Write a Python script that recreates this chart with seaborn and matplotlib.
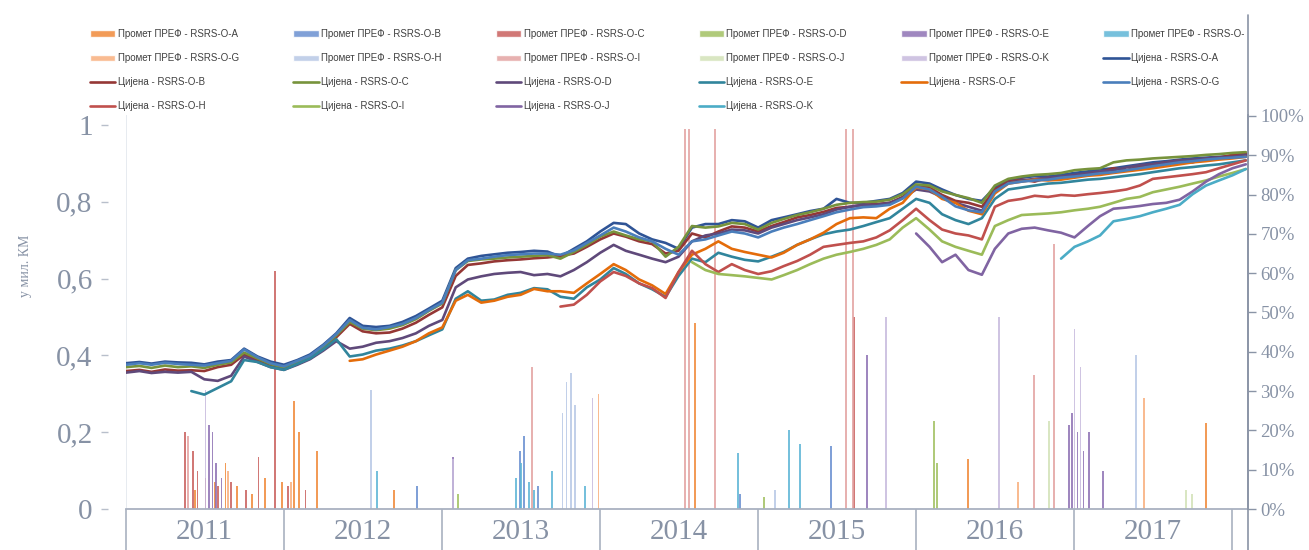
import matplotlib
matplotlib.use("Agg")
import matplotlib.pyplot as plt
from matplotlib.patches import Patch
from matplotlib.lines import Line2D
from matplotlib.transforms import Bbox, TransformedBbox
import pandas as pd
import seaborn as sns

# ---------------- data ----------------
codes = ["A", "B", "C", "D", "E", "F", "G", "H", "I", "J", "K"]
year_labels = ["2011", "2012", "2013", "2014", "2015", "2016", "2017"]

# monthly prices (% of nominal), first value at the start month of each series
price_start = {"A": "2011-01-01", "B": "2011-01-01", "C": "2011-01-01", "D": "2011-01-01",
               "E": "2011-06-01", "F": "2012-06-01", "G": "2011-01-01", "H": "2013-10-01",
               "I": "2014-08-01", "J": "2016-01-01", "K": "2016-12-01"}

price_A = [37.1, 37.4, 37.0, 37.5, 37.3, 37.2, 36.8, 37.5, 37.9, 40.8,
           38.8, 37.5, 36.7, 37.9, 39.3, 41.8, 44.7, 48.6, 46.6, 46.3,
           46.6, 47.6, 49.1, 51.0, 53.0, 61.3, 63.7, 64.4, 64.8, 65.2,
           65.4, 65.7, 65.5, 64.2, 66.2, 68.1, 70.6, 72.8, 72.5, 70.1,
           68.6, 67.7, 66.2, 71.6, 72.5, 72.5, 73.5, 73.2, 71.6, 73.5,
           74.2, 75.0, 75.8, 76.4, 78.9, 77.9, 77.9, 78.4, 78.9, 80.4,
           83.3, 82.8, 81.3, 79.9, 78.9, 78.4, 81.8, 83.8, 84.3, 84.7,
           84.6, 85.0, 85.5, 85.9, 86.4, 86.7, 87.2, 87.7, 88.2, 88.5,
           88.9, 89.2, 89.4, 89.6, 89.8, 90.1]
price_B = [35.1, 35.4, 34.9, 35.5, 35.2, 35.3, 35.1, 36.1, 36.7, 39.3,
           37.8, 36.4, 35.7, 36.9, 38.3, 40.8, 43.7, 47.1, 45.2, 44.7,
           44.9, 45.9, 47.4, 49.4, 51.3, 59.3, 62.1, 62.5, 63.0, 63.3,
           63.5, 63.8, 64.0, 64.4, 65.0, 66.7, 68.6, 70.1, 69.3, 68.1,
           67.4, 65.0, 65.7, 70.1, 69.1, 70.6, 71.9, 71.6, 70.6, 72.0,
           73.0, 74.2, 74.8, 75.6, 76.6, 76.9, 77.4, 77.6, 77.9, 79.4,
           82.3, 81.8, 79.9, 78.4, 77.9, 76.9, 81.3, 83.3, 83.8, 83.3,
           84.3, 84.0, 84.8, 85.2, 85.7, 86.7, 86.2, 87.2, 87.7, 88.2,
           88.7, 88.2, 89.2, 89.4, 90.1, 90.4]
price_C = [36.1, 36.4, 35.9, 36.5, 36.1, 36.3, 35.9, 36.7, 37.3, 39.8,
           38.3, 36.9, 35.9, 37.3, 38.8, 41.3, 44.2, 47.6, 45.9, 45.5,
           45.9, 46.8, 48.3, 50.4, 52.3, 60.8, 63.1, 63.5, 63.7, 64.0,
           64.2, 64.4, 64.6, 63.7, 65.4, 67.2, 69.3, 70.6, 69.6, 68.6,
           68.1, 64.2, 66.7, 72.0, 71.6, 71.9, 72.8, 72.5, 71.1, 72.8,
           73.8, 74.8, 75.5, 76.4, 77.4, 77.9, 78.1, 78.2, 78.7, 80.1,
           82.6, 82.3, 80.8, 79.9, 79.1, 77.9, 82.3, 84.0, 84.6, 85.0,
           85.2, 85.5, 86.2, 86.5, 86.7, 88.2, 88.7, 88.9, 89.2, 89.4,
           89.6, 89.8, 90.1, 90.3, 90.6, 90.8]
price_D = [34.7, 35.1, 34.6, 34.9, 34.7, 34.9, 33.0, 32.6, 33.9, 38.8,
           37.4, 36.1, 35.4, 36.7, 38.1, 40.3, 42.7, 40.8, 41.3, 42.3,
           42.7, 43.5, 44.7, 46.6, 48.1, 56.4, 58.4, 59.2, 59.8, 60.1,
           60.3, 59.5, 59.8, 59.2, 60.8, 62.8, 65.2, 67.2, 65.7, 64.7,
           63.7, 62.8, 64.2, 68.1, 69.6, 70.1, 71.1, 70.9, 70.1, 71.6,
           72.5, 73.5, 74.2, 75.0, 76.2, 76.9, 77.4, 77.4, 77.9, 79.1,
           81.3, 80.8, 79.4, 77.9, 76.9, 75.9, 80.8, 83.0, 83.6, 84.0,
           84.3, 84.6, 85.0, 85.5, 85.9, 86.2, 86.9, 87.5, 87.7, 88.2,
           88.7, 88.9, 89.2, 89.4, 89.6, 90.1]
price_E = [30.0, 29.1, 30.8, 32.5, 37.9, 37.4, 36.1, 35.4, 36.9, 38.3,
           40.6, 43.2, 38.8, 39.3, 40.3, 40.8, 41.6, 42.7, 44.2, 45.7,
           53.5, 55.4, 53.0, 53.3, 54.5, 55.0, 56.2, 55.9, 54.0, 53.5,
           56.4, 58.4, 61.3, 59.8, 57.4, 55.9, 54.0, 59.3, 63.7, 62.8,
           65.2, 64.2, 63.4, 63.0, 64.2, 65.4, 67.2, 68.6, 69.9, 70.6,
           71.1, 72.0, 73.0, 74.0, 76.4, 78.9, 77.9, 75.0, 73.5, 72.5,
           74.0, 78.9, 81.3, 81.8, 82.3, 82.8, 83.0, 83.4, 83.8, 84.0,
           84.4, 84.8, 85.2, 85.7, 86.2, 86.7, 87.0, 87.4, 87.7, 88.2, 88.7]
price_F = [37.7, 38.1, 39.3, 40.3, 41.3, 42.7, 44.7, 46.2, 53.0, 54.5,
           52.5, 53.0, 54.0, 54.5, 56.0, 55.4, 55.4, 55.0, 57.4, 59.8,
           62.3, 60.8, 58.4, 56.9, 54.7, 60.3, 64.7, 66.2, 68.1, 66.2,
           65.4, 64.7, 64.0, 65.2, 67.2, 68.6, 70.3, 72.5, 74.0, 74.2,
           74.0, 76.4, 77.9, 81.8, 81.3, 78.9, 77.9, 75.9, 75.0, 80.3,
           82.8, 83.3, 83.8, 83.6, 83.8, 84.3, 84.8, 85.0, 85.5, 85.9,
           86.3, 86.7, 87.2, 87.7, 88.2, 88.5, 88.9, 89.2, 89.6]
price_G = [36.7, 37.1, 36.7, 37.2, 36.9, 36.7, 36.5, 37.1, 37.7, 40.6,
           38.6, 37.1, 36.3, 37.7, 39.0, 41.6, 44.5, 48.1, 46.1, 45.7,
           46.3, 47.1, 48.6, 50.6, 52.5, 60.8, 63.3, 63.7, 64.2, 64.6,
           64.8, 65.0, 65.0, 64.7, 65.8, 67.7, 69.6, 71.6, 70.6, 69.1,
           68.1, 66.2, 64.7, 68.1, 68.6, 69.6, 70.6, 70.1, 69.1, 70.6,
           71.6, 72.5, 73.5, 74.5, 75.5, 76.2, 76.8, 77.0, 77.4, 79.0,
           82.0, 81.3, 79.4, 77.0, 76.0, 75.5, 80.8, 82.8, 83.3, 83.6,
           83.8, 84.3, 84.6, 85.0, 85.4, 85.7, 86.2, 86.7, 87.2, 87.7,
           88.2, 88.5, 88.9, 89.2, 89.4, 89.6]
price_H = [51.5, 52.0, 54.5, 57.9, 60.3, 59.3, 57.4, 56.2, 53.7, 60.3,
           65.7, 62.3, 60.3, 62.3, 60.8, 59.8, 60.5, 61.8, 63.1, 64.7,
           66.7, 67.2, 67.7, 68.1, 69.1, 70.9, 73.5, 76.4, 73.5, 71.1,
           70.1, 69.6, 68.6, 76.9, 78.4, 78.9, 79.7, 79.4, 79.9, 79.7,
           80.1, 80.4, 80.8, 81.3, 82.3, 84.0, 84.4, 84.8, 85.2, 85.7,
           86.7, 87.7, 88.7]
price_I = [62.8, 60.8, 59.8, 59.5, 59.2, 58.8, 58.4, 59.5, 60.8, 62.3,
           63.7, 64.7, 65.4, 66.2, 67.2, 68.6, 71.6, 74.0, 71.1, 68.1,
           66.7, 65.7, 64.7, 72.0, 73.5, 74.8, 75.0, 75.2, 75.5, 76.0,
           76.4, 76.9, 77.9, 78.9, 79.4, 80.6, 81.3, 82.0, 82.8, 83.6,
           84.6, 85.5, 86.5]
price_J = [70.1, 66.7, 62.8, 64.7, 60.8, 59.6, 66.2, 70.1, 71.3, 71.6,
           70.9, 70.3, 69.1, 72.0, 74.5, 76.4, 76.7, 77.1, 77.6, 77.9,
           78.7, 80.8, 83.3, 85.2, 86.7, 87.7]
price_K = [63.7, 66.7, 68.1, 69.6, 73.2, 73.8, 74.5, 75.5, 76.4, 77.4,
           80.1, 82.3, 83.6, 84.9, 86.5]
prices = {"A": price_A, "B": price_B, "C": price_C, "D": price_D, "E": price_E,
          "F": price_F, "G": price_G, "H": price_H, "I": price_I, "J": price_J, "K": price_K}

# turnover (mil. KM): dates and values of the visible spikes
turn_dates_A = ["2011-06-10", "2011-07-25", "2011-08-19", "2011-09-14", "2011-10-20", "2011-11-19",
                "2011-12-27", "2012-01-24", "2012-02-04", "2012-03-17", "2012-09-11", "2014-08-08",
                "2016-04-30", "2017-11-01"]
turn_vals_A = [0.05, 0.07, 0.12, 0.06, 0.04, 0.08, 0.07, 0.28, 0.20, 0.15, 0.05, 0.485, 0.13, 0.225]
turn_dates_B = ["2012-11-03", "2013-06-29", "2013-07-08", "2013-08-10", "2014-11-20", "2015-06-18"]
turn_vals_B = [0.06, 0.15, 0.19, 0.06, 0.04, 0.165]
turn_dates_C = ["2011-05-18", "2011-06-04", "2011-06-15", "2011-07-04", "2011-08-01", "2011-09-01",
                "2011-10-05", "2011-11-03", "2011-12-12", "2012-01-10", "2012-02-20", "2015-08-11"]
turn_vals_C = [0.20, 0.15, 0.10, 0.08, 0.06, 0.07, 0.05, 0.135, 0.62, 0.06, 0.05, 0.50]
turn_dates_D = ["2013-02-06", "2015-01-14", "2016-02-11", "2016-02-18"]
turn_vals_D = [0.04, 0.03, 0.23, 0.12]
turn_dates_E = ["2011-07-11", "2011-07-20", "2011-07-28", "2011-08-10", "2013-01-26", "2015-09-10",
                "2016-12-20", "2016-12-27", "2017-01-08", "2017-01-22", "2017-02-04", "2017-03-08"]
turn_vals_E = [0.22, 0.20, 0.12, 0.08, 0.135, 0.40, 0.22, 0.25, 0.20, 0.15, 0.20, 0.10]
turn_dates_F = ["2012-08-03", "2013-06-20", "2013-07-02", "2013-07-20", "2013-08-01", "2013-09-11",
                "2013-11-26", "2014-11-15", "2015-03-13", "2015-04-08"]
turn_vals_F = [0.10, 0.08, 0.12, 0.07, 0.05, 0.10, 0.06, 0.145, 0.205, 0.17]
turn_dates_G = ["2011-08-25", "2012-01-17", "2013-12-28", "2016-08-24", "2017-06-11"]
turn_vals_G = [0.10, 0.07, 0.30, 0.07, 0.29]
turn_dates_H = ["2012-07-20", "2013-10-06", "2013-10-15", "2013-10-25", "2013-11-03", "2015-02-09",
                "2017-05-23"]
turn_vals_H = [0.31, 0.25, 0.33, 0.355, 0.27, 0.05, 0.40]
turn_dates_I = ["2011-05-25", "2013-07-27", "2014-07-16", "2014-07-25", "2014-09-23", "2015-07-23",
                "2015-08-08", "2016-09-30", "2016-11-15"]
turn_vals_I = [0.19, 0.37, 0.99, 0.99, 0.99, 0.99, 0.99, 0.35, 0.69]
turn_dates_J = ["2016-11-03", "2017-09-16", "2017-09-30"]
turn_vals_J = [0.23, 0.05, 0.04]
turn_dates_K = ["2011-07-04", "2013-01-26", "2013-12-14", "2015-10-23", "2016-07-10", "2017-01-01",
                "2017-01-15"]
turn_vals_K = [0.31, 0.13, 0.29, 0.50, 0.50, 0.47, 0.37]
turnover = {"A": (turn_dates_A, turn_vals_A), "B": (turn_dates_B, turn_vals_B),
            "C": (turn_dates_C, turn_vals_C), "D": (turn_dates_D, turn_vals_D),
            "E": (turn_dates_E, turn_vals_E), "F": (turn_dates_F, turn_vals_F),
            "G": (turn_dates_G, turn_vals_G), "H": (turn_dates_H, turn_vals_H),
            "I": (turn_dates_I, turn_vals_I), "J": (turn_dates_J, turn_vals_J),
            "K": (turn_dates_K, turn_vals_K)}

left_ticks = [0, 0.2, 0.4, 0.6, 0.8, 1.0]
left_labels = ["0", "0,2", "0,4", "0,6", "0,8", "1"]
right_ticks = [0, 10, 20, 30, 40, 50, 60, 70, 80, 90, 100]
right_labels = ["0%", "10%", "20%", "30%", "40%", "50%", "60%", "70%", "80%", "90%", "100%"]

# ---------------- styles ----------------
line_colors = {"A": "#2F5496", "B": "#953735", "C": "#77933C", "D": "#5F497A", "E": "#31859C",
               "F": "#E46C0A", "G": "#4A7EBB", "H": "#C0504D", "I": "#9BBB59", "J": "#8064A2",
               "K": "#4BACC6"}
bar_colors = {"A": "#F08A3A", "B": "#6A8FD0", "C": "#C9605E", "D": "#A3C163", "E": "#8E72B4",
              "F": "#5EB5D6", "G": "#F8B07E", "H": "#B8C8E6", "I": "#E3A4A3", "J": "#D3E2B8",
              "K": "#C7BADD"}
axis_col = "#8A94A6"
label_col = "#8792A5"

sns.set_style("white")
plt.rcParams["font.family"] = ["Liberation Serif", "DejaVu Serif"]

W, H = 1309, 550
fig = plt.figure(figsize=(W / 100, H / 100), dpi=100)
ax = fig.add_axes([126 / W, 1 - 509 / H, (1248 - 126) / W, (509 - 115) / H])
ax2 = ax.twinx()

# spine positions first (set_position resets the ticks)
ax.spines["left"].set_position(("outward", 13))
ax.spines["left"].set_color("none")

# bars (left axis)
for c in codes:
    d, v = turnover[c]
    ax.bar(pd.to_datetime(d), v, width=4, color=bar_colors[c], alpha=0.85, linewidth=0, zorder=2)

# lines (right axis)
rows = []
for c in codes:
    dates = pd.date_range(price_start[c], periods=len(prices[c]), freq="MS")
    for dt, val in zip(dates, prices[c]):
        rows.append({"date": dt, "price": val, "series": "Цијена - RSRS-O-" + c})
df = pd.DataFrame(rows)
sns.lineplot(data=df, x="date", y="price", hue="series",
             hue_order=["Цијена - RSRS-O-" + c for c in codes],
             palette={"Цијена - RSRS-O-" + c: line_colors[c] for c in codes},
             linewidth=1.9, legend=False, estimator=None, errorbar=None, ax=ax2)
ax2.set_ylabel("")
ax2.set_xlabel("")

xmin, xmax = pd.Timestamp("2011-01-01"), pd.Timestamp("2018-02-06")
ax.set_xlim(xmin, xmax)
ax.set_ylim(0, 394 / 384)
ax2.set_ylim(0, 100.25)

# left axis
ax.set_yticks(left_ticks)
ax.set_yticklabels(left_labels, fontsize=21, color=label_col)
ax.tick_params(axis="y", which="both", left=True, length=5, width=1, color="#B8BFCB", pad=6,
               labelsize=21, labelcolor=label_col)
ax.axvline(xmin, color="#E3E7ED", lw=1.2, zorder=1)

# right axis
ax2.set_yticks(right_ticks)
ax2.set_yticklabels(right_labels, fontsize=13.5, color=label_col)
ax2.tick_params(axis="y", right=True, length=6, width=1, color=axis_col, pad=3)
for a in (ax, ax2):
    a.spines["top"].set_visible(False)
ax.spines["right"].set_visible(False)
ax2.spines["left"].set_visible(False)
ax2.spines["bottom"].set_visible(False)
ax2.spines["right"].set_color(axis_col)
ax2.spines["right"].set_linewidth(1.2)
fig.add_artist(Line2D([1248 / W, 1248 / W], [0, 1 - 15 / H], transform=fig.transFigure,
                      color=axis_col, lw=1.2))

# x axis: year boundaries + centered year labels
ax.spines["bottom"].set_color("#A9B1C0")
ax.spines["bottom"].set_linewidth(1.3)
bounds = [pd.Timestamp(f"{y}-01-01") for y in range(2011, 2019)]
mids = [pd.Timestamp(f"{y}-07-02") for y in year_labels]
ax.set_xticks(bounds)
ax.set_xticklabels([""] * len(bounds))
ax.set_xticks(mids, minor=True)
ax.set_xticklabels(year_labels, minor=True, fontsize=21, color=label_col)
ax.tick_params(axis="x", which="major", bottom=True, length=31, width=1.2, color="#A9B1C0")
ax.tick_params(axis="x", which="minor", bottom=True, length=0, pad=7)
ax.grid(False)
ax2.grid(False)

fig.text(26 / W, 1 - 266 / H, "у мил. КМ", rotation=90, ha="center", va="center",
         fontsize=10, color=label_col)

# legend (row-major like the original)
entries = [Patch(facecolor=bar_colors[c], alpha=0.85, label="Промет ПРЕФ - RSRS-O-" + c) for c in codes]
entries += [Line2D([], [], color=line_colors[c], lw=1.9, label="Цијена - RSRS-O-" + c) for c in codes]
ncol, nrow = 6, 4
order = []
for j in range(ncol):
    for i in range(nrow):
        k = i * ncol + j
        if k < len(entries):
            order.append(entries[k])
leg = fig.legend(handles=order, ncol=ncol, loc="upper left", bbox_to_anchor=(90 / W, 1 - 29 / H),
                 frameon=False, prop={"family": ["Liberation Sans", "DejaVu Sans"], "size": 7},
                 handlelength=2.6, handleheight=0.6, handletextpad=0.25, columnspacing=5.6,
                 labelspacing=1.45, borderpad=0, borderaxespad=0, labelcolor="#404040")
clip = TransformedBbox(Bbox([[0, 0], [1244 / W, 1]]), fig.transFigure)
for t in leg.get_texts():
    t.set_clip_box(clip)
    t.set_clip_on(True)

fig.savefig("out.png", dpi=100)
